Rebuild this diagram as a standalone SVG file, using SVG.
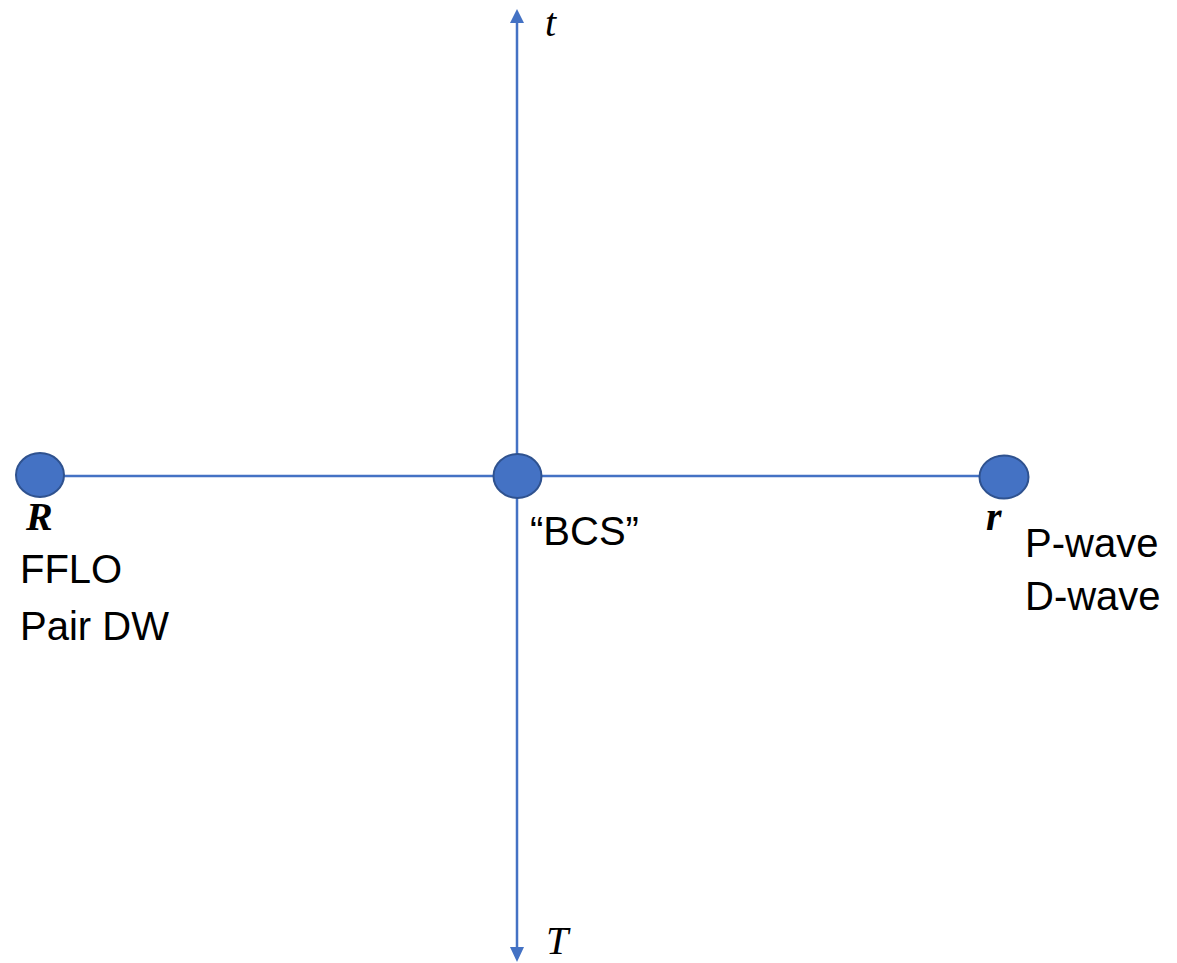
<svg xmlns="http://www.w3.org/2000/svg" width="1177" height="963" viewBox="0 0 1177 963">
<style>
.ln{stroke:#4472C4;stroke-width:2.5;fill:none}
.nd{fill:#4472C4;stroke:#2F528F;stroke-width:2}
.lbl{font-family:"Liberation Sans",Arial,sans-serif;font-size:40px;fill:#000}
.mi{font-family:"Liberation Serif","Times New Roman",serif;font-style:italic;font-size:40px;fill:#000}
.mb{font-family:"Liberation Serif","Times New Roman",serif;font-style:italic;font-weight:bold;font-size:40px;fill:#000}
</style>
<rect width="1177" height="963" fill="#fff"/>
<g id="connectors">
<line class="ln" x1="40" y1="476" x2="1004" y2="476"/>
<line class="ln" x1="517" y1="20" x2="517" y2="950"/>
<polygon points="517,9 510,23 524,23" fill="#4472C4"/>
<polygon points="517,962 510,947 524,947" fill="#4472C4"/>
</g>
<g id="axis-t"><text class="mi" x="545" y="36">t</text></g>
<g id="axis-T"><text class="mi" x="546" y="954">T</text></g>
<g id="node-R">
<ellipse class="nd" cx="40" cy="475" rx="24" ry="22"/>
<text class="mb" x="26" y="530">R</text>
<text class="lbl" x="20" y="583">FFLO</text>
<text class="lbl" x="20" y="640">Pair DW</text>
</g>
<g id="node-BCS">
<ellipse class="nd" cx="517.5" cy="476" rx="24" ry="22"/>
<text class="lbl" x="530" y="545">“BCS”</text>
</g>
<g id="node-r">
<ellipse class="nd" cx="1004" cy="477" rx="24.5" ry="21.5"/>
<text class="mb" x="986" y="530">r</text>
<text class="lbl" x="1025" y="557">P-wave</text>
<text class="lbl" x="1025" y="610">D-wave</text>
</g>
</svg>
